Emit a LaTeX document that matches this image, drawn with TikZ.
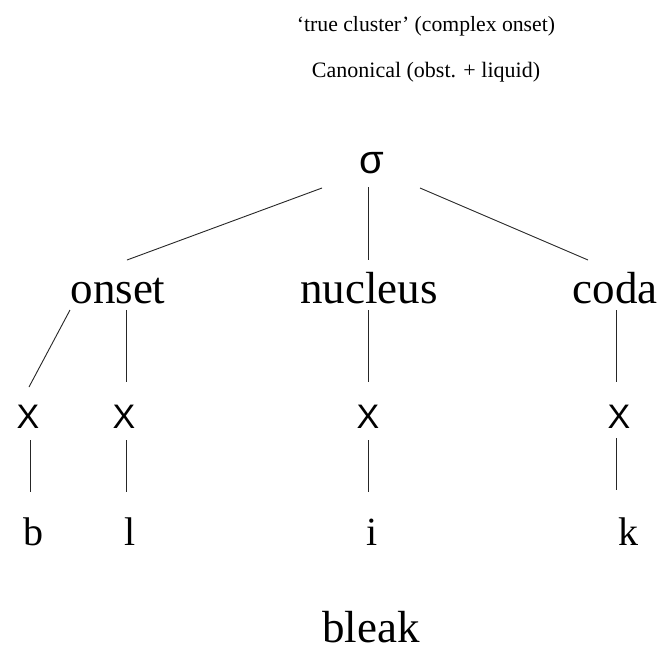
\documentclass[tikz,border=0pt]{standalone}
\usepackage{fontspec}
\setmainfont{Liberation Serif}
\newfontfamily\sansfam{Liberation Sans}
\usetikzlibrary{calc}

\tikzset{
  heading/.style={anchor=base, inner sep=0pt, font=\fontsize{22}{26}\selectfont},
  rootnode/.style={anchor=base, inner sep=0pt, font=\sansfam\fontsize{40}{44}\selectfont},
  constituent/.style={anchor=base, inner sep=0pt, font=\fontsize{45}{50}\selectfont},
  slot/.style={anchor=base, inner sep=0pt, font=\sansfam\fontsize{34}{38}\selectfont},
  segment/.style={anchor=base, inner sep=0pt, font=\fontsize{40}{44}\selectfont},
  word/.style={anchor=base, inner sep=0pt, font=\fontsize{45}{50}\selectfont},
  branch/.style={draw=black!85, line width=0.9pt}
}

\begin{document}
\begin{tikzpicture}[x=1pt, y=-1pt]
  \useasboundingbox[fill=white] (0,0) rectangle (663,651);

  % headings
  \node[heading, font=\fontsize{21.7}{26}\selectfont] (title) at (426,31) {‘true cluster’ (complex onset)};
  \node[heading] (subtitle) at (426,77) {Canonical (obst. + liquid)};

  % syllable node
  \node[rootnode] (sigma) at (372,173) {σ};

  % onset, nucleus, coda
  \node[constituent] (onset)   at (118,303) {onset};
  \node[constituent] (nucleus) at (369,303) {nucleus};
  \node[constituent] (coda)    at (615,303) {coda};

  % timing slots
  \node[slot] (x1) at (28,428)  {X};
  \node[slot] (x2) at (124,428) {X};
  \node[slot] (x3) at (368,428) {X};
  \node[slot] (x4) at (619,428) {X};

  % segments
  \node[segment] (sb) at (33,545)  {b};
  \node[segment] (sl) at (130,545) {l};
  \node[segment] (si) at (372,545) {i};
  \node[segment] (sk) at (628,545) {k};

  % the word
  \node[word] (bleak) at (371,642) {bleak};

  % sigma to constituents
  \draw[branch] ($(sigma.base)+(-50,15)$) -- ($(onset.base)+(9,-43)$);
  \draw[branch] ($(sigma.base)+(-4,14)$)  -- ($(nucleus.base)+(-1,-43)$);
  \draw[branch] ($(sigma.base)+(48,15)$)  -- ($(coda.base)+(-27,-43)$);

  % constituents to slots
  \draw[branch] ($(onset.base)+(-48,7)$)  -- ($(x1.base)+(1,-41)$);
  \draw[branch] ($(onset.base)+(8,7)$)    -- ($(x2.base)+(2,-46)$);
  \draw[branch] ($(nucleus.base)+(-1,7)$) -- ($(x3.base)+(0,-46)$);
  \draw[branch] ($(coda.base)+(1,7)$)     -- ($(x4.base)+(-3,-46)$);

  % slots to segments
  \draw[branch] ($(x1.base)+(2,12)$)  -- ($(sb.base)+(-3,-53)$);
  \draw[branch] ($(x2.base)+(2,12)$)  -- ($(sl.base)+(-4,-53)$);
  \draw[branch] ($(x3.base)+(0,12)$)  -- ($(si.base)+(-4,-53)$);
  \draw[branch] ($(x4.base)+(-3,10)$) -- ($(sk.base)+(-12,-55)$);
\end{tikzpicture}
\end{document}
